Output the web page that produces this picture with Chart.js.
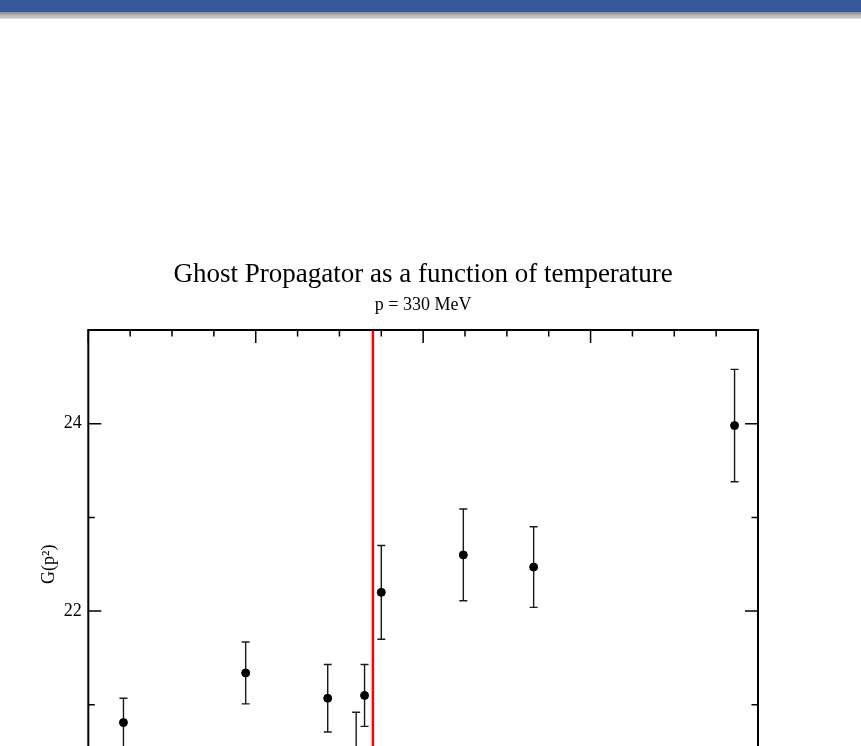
<!DOCTYPE html>
<html>
<head>
<meta charset="utf-8">
<title>Ghost Propagator</title>
<script src="https://cdn.jsdelivr.net/npm/chart.js"></script>
<style>
	html, body { margin: 0; padding: 0; background: #fff; overflow: hidden; }
	#topbar { position: absolute; left: 0; top: 0; width: 861px; height: 12px; background: #34589a; z-index: 2; }
	#topshade { position: absolute; left: 0; top: 12px; width: 861px; height: 7px; background: linear-gradient(#8c8c8c, #dedede); z-index: 2; }
	#wrap { position: absolute; left: 0; top: 0; width: 861px; height: 880px; }
</style>
</head>
<body>
<div id="topbar"></div>
<div id="topshade"></div>
<div id="wrap"><canvas id="ghostChart" width="861" height="880"></canvas></div>
<script>
// temperature in MeV, G(p^2) at p = 330 MeV with errors
const temperatures = [121, 194, 243, 260, 265, 275, 324, 366, 486];
const propagator = [20.81, 21.34, 21.07, 20.45, 21.10, 22.20, 22.60, 22.47, 23.98];
const errors = [0.26, 0.33, 0.36, 0.47, 0.33, 0.50, 0.49, 0.43, 0.60];
const criticalT = 270;
const xTicks = [100, 200, 300, 400, 500];
const yTicks = [20, 22, 24];
const xMinorStep = 25;
const yMinorStep = 1;

const serif = "'Liberation Serif', 'Times New Roman', serif";

// vertical error bars with caps, under the points
const errorBars = {
	id: "errorBars",
	beforeDatasetsDraw(chart) {
		const ctx = chart.ctx;
		const xs = chart.scales.x, ys = chart.scales.y;
		ctx.save();
		ctx.strokeStyle = "#1a1a1a";
		ctx.lineWidth = 1.4;
		for (let i = 0; i < temperatures.length; i++) {
			let px = xs.getPixelForValue(temperatures[i]);
			let top = ys.getPixelForValue(propagator[i] + errors[i]);
			let bot = ys.getPixelForValue(propagator[i] - errors[i]);
			ctx.beginPath();
			ctx.moveTo(px, top); ctx.lineTo(px, bot);
			ctx.moveTo(px - 4, top); ctx.lineTo(px + 4, top);
			ctx.moveTo(px - 4, bot); ctx.lineTo(px + 4, bot);
			ctx.stroke();
		}
		ctx.restore();
	}
};

// box frame with inward major/minor ticks on all four sides
const frameTicks = {
	id: "frameTicks",
	afterDatasetsDraw(chart) {
		const ctx = chart.ctx;
		const a = chart.chartArea;
		const xs = chart.scales.x, ys = chart.scales.y;
		ctx.save();
		ctx.strokeStyle = "#000";
		ctx.lineWidth = 1.5;
		ctx.beginPath();
		for (let v = xs.min; v <= xs.max; v += xMinorStep) {
			let len = xTicks.includes(v) ? 13 : 6.5;
			let px = xs.getPixelForValue(v);
			ctx.moveTo(px, a.top); ctx.lineTo(px, a.top + len);
			ctx.moveTo(px, a.bottom); ctx.lineTo(px, a.bottom - len);
		}
		for (let v = ys.min; v <= ys.max; v += yMinorStep) {
			let len = yTicks.includes(v) ? 13 : 6.5;
			let py = ys.getPixelForValue(v);
			ctx.moveTo(a.left, py); ctx.lineTo(a.left + len, py);
			ctx.moveTo(a.right, py); ctx.lineTo(a.right - len, py);
		}
		ctx.stroke();
		ctx.lineWidth = 2;
		ctx.strokeRect(a.left, a.top, a.right - a.left, a.bottom - a.top);
		ctx.restore();
	}
};

const chart = new Chart(document.getElementById("ghostChart"), {
	type: "scatter",
	data: {
		datasets: [
			{
				label: "Tc",
				type: "line",
				data: [{ x: criticalT, y: 20 }, { x: criticalT, y: 25 }],
				borderColor: "#ff0000",
				borderWidth: 2.5,
				pointRadius: 0,
				order: 2
			},
			{
				label: "G(p²)",
				data: temperatures.map((t, i) => ({ x: t, y: propagator[i] })),
				backgroundColor: "#000",
				borderColor: "#000",
				pointRadius: 4,
				order: 1
			}
		]
	},
	options: {
		responsive: false,
		animation: false,
		layout: { padding: { top: 0, left: 0, right: 103, bottom: 41.5 } },
		plugins: {
			legend: { display: false },
			tooltip: { enabled: false },
			title: {
				display: true,
				fullSize: false,
				text: "Ghost Propagator as a function of temperature",
				color: "#000",
				font: { family: serif, size: 27, weight: "normal" },
				padding: { top: 258.8, bottom: 0 }
			},
			subtitle: {
				display: true,
				fullSize: false,
				text: "p = 330 MeV",
				color: "#000",
				font: { family: serif, size: 18, weight: "normal" },
				padding: { top: 3.5, bottom: 13.7 }
			}
		},
		scales: {
			x: {
				type: "linear",
				min: 100,
				max: 500,
				grid: { display: false },
				border: { display: false },
				afterBuildTicks: (s) => { s.ticks = xTicks.map((v) => ({ value: v })); },
				afterFit: (s) => { s.height = 40; },
				ticks: { color: "#000", font: { family: serif, size: 18 }, padding: 8 }
			},
			y: {
				type: "linear",
				min: 20,
				max: 25,
				grid: { display: false, drawTicks: false },
				border: { display: false },
				afterBuildTicks: (s) => { s.ticks = yTicks.map((v) => ({ value: v })); },
				afterFit: (s) => { s.width = 88.3; },
				ticks: { color: "#000", font: { family: serif, size: 18 }, padding: 6.5 },
				title: {
					display: true,
					text: "G(p²)",
					color: "#000",
					font: { family: serif, size: 18 },
					padding: { top: 38, bottom: 0 }
				}
			}
		}
	},
	plugins: [errorBars, frameTicks]
});
</script>
</body>
</html>
